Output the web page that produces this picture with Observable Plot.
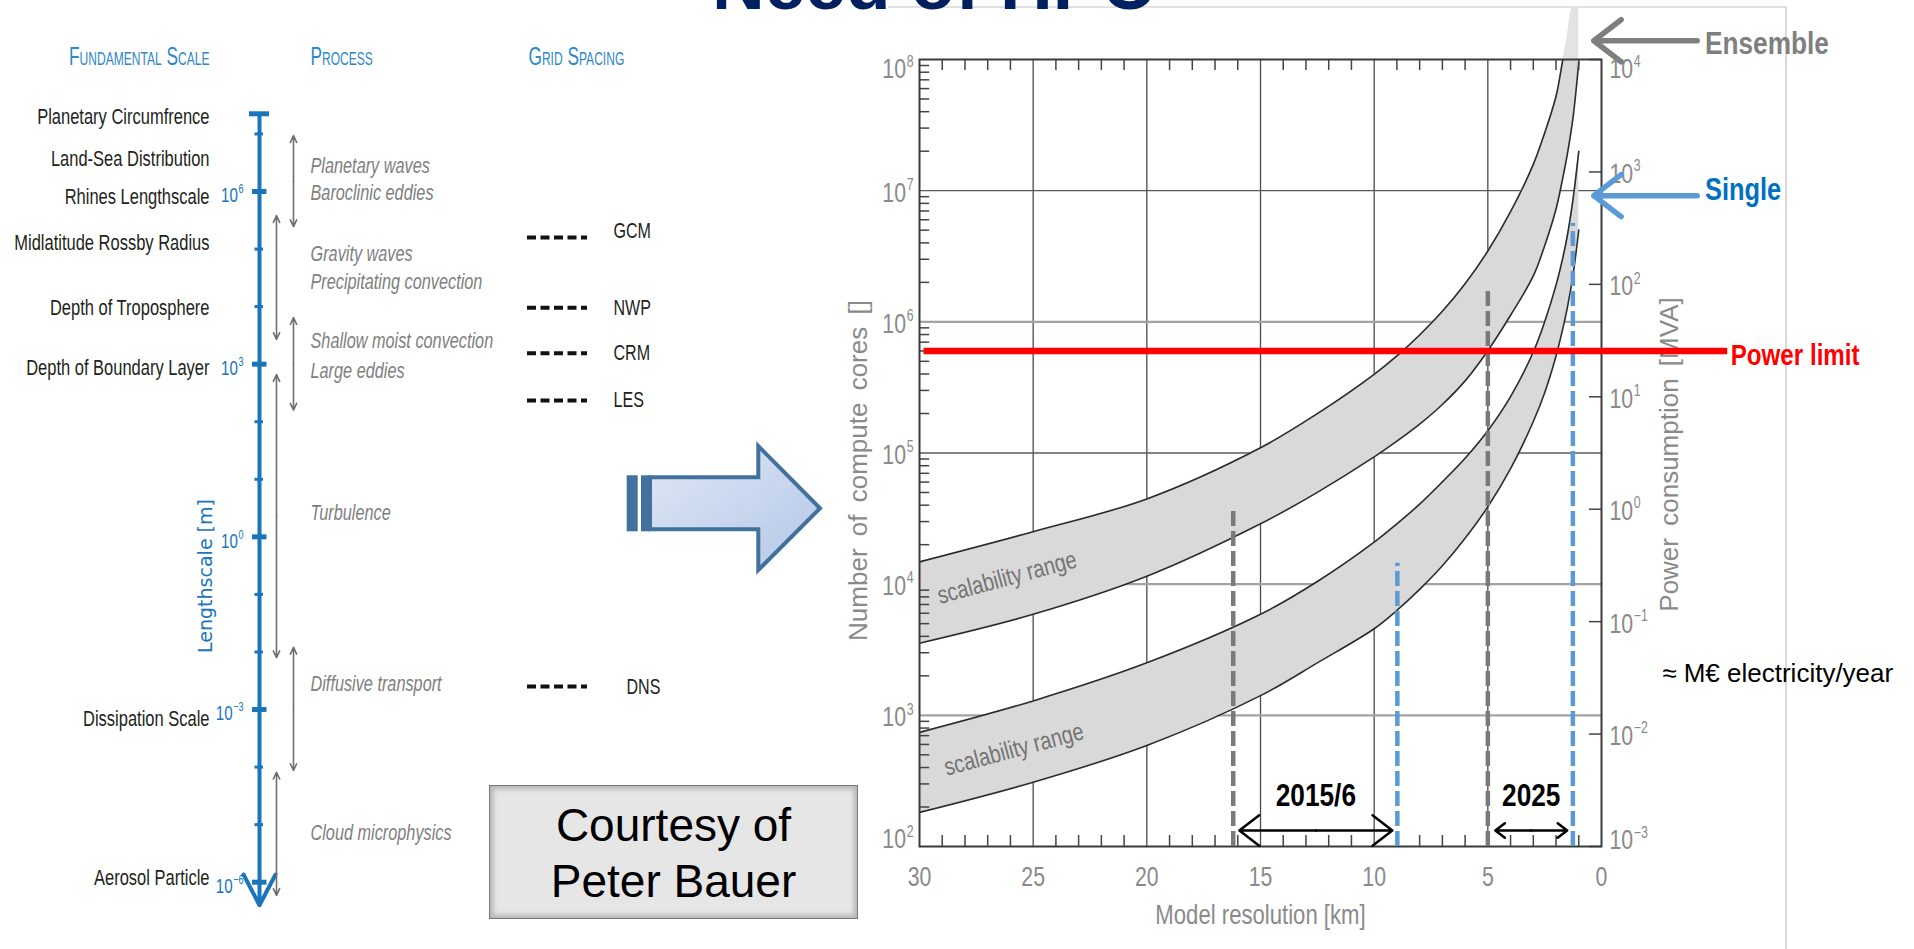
<!DOCTYPE html>
<html><head><meta charset="utf-8">
<script src="https://cdn.jsdelivr.net/npm/d3@7"></script>
<script src="https://cdn.jsdelivr.net/npm/@observablehq/plot@0.6"></script>
<style>
html,body{margin:0;padding:0;background:#fff;}
body{width:1914px;height:949px;overflow:hidden;position:relative;}
.layer{position:absolute;left:0;top:0;}
svg{max-width:none !important;}
#courtesy{position:absolute;left:489px;top:785px;width:369px;height:134px;background:#e6e6e6;border:1.5px solid #7a7a7a;
 box-shadow: inset 0 0 5px 3px rgba(0,0,0,0.22);font-family:'Liberation Sans',Arial,sans-serif;font-size:46px;line-height:56px;
 text-align:center;color:#000;padding-top:11px;box-sizing:border-box;}
</style></head><body>
<script>
// ---------------- DATA: right chart (compute cores vs model resolution) ----------------
const kmPoints          = [30,   25,   20,   15,   12.5, 10,   9,    8,    7,    6,    5,    4,    3,    2.5,  2,    1.7,  1.5,  1.25, 1.0];
// log10(number of cores)
const ensembleUpperLog  = [4.17, 4.40, 4.65, 5.04, 5.30, 5.60, 5.74, 5.90, 6.08, 6.29, 6.54, 6.84, 7.20, 7.44, 7.72, 8.00, 8.18, 8.40, 8.40];
const ensembleLowerLog  = [3.55, 3.77, 4.06, 4.46, 4.70, 4.97, 5.09, 5.22, 5.37, 5.55, 5.78, 6.05, 6.35, 6.58, 6.86, 7.10, 7.28, 7.56, 7.98];
const singleUpperLog    = [2.87, 3.11, 3.40, 3.77, 4.02, 4.32, 4.46, 4.61, 4.78, 4.96, 5.17, 5.43, 5.77, 6.00, 6.28, 6.49, 6.66, 6.94, 7.30];
const singleLowerLog    = [2.26, 2.49, 2.77, 3.15, 3.40, 3.66, 3.80, 3.96, 4.14, 4.35, 4.59, 4.88, 5.24, 5.46, 5.74, 5.95, 6.11, 6.36, 6.70];
const xTickValues  = [30, 25, 20, 15, 10, 5, 0];
const xGridValues  = [25, 20, 15, 10, 5];
const coreTickExp  = [2, 3, 4, 5, 6, 7, 8];
const darkGridExp  = [5, 7];
const lightGridExp = [3, 4, 6];
const powerTickExp = [-3, -2, -1, 0, 1, 2, 3, 4];
const powerLimitCores = 6.0e5;
const markerKm     = [16.2, 8.98, 5.0, 1.26];
const markerTopLog = [4.59, 4.16, 6.26, 6.75];
const markerKind   = ["ensemble", "single", "ensemble", "single"];
const periodLabels = ["2015/6", "2025"];
const periodFromKm = [15.93, 4.67];
const periodToKm   = [9.2, 1.51];
const bandLabels   = ["scalability range", "scalability range"];

// ---------------- DATA: left diagram (length scales) ----------------
const scaleNames   = ["Planetary Circumfrence","Land-Sea Distribution","Rhines Lengthscale","Midlatitude Rossby Radius","Depth of Troposphere","Depth of Boundary Layer","Dissipation Scale","Aerosol Particle"];
const scaleNameExp = [7.29, 6.57, 5.90, 5.11, 3.98, 2.94, -3.16, -5.92];
const processNames = ["Planetary waves","Baroclinic eddies","Gravity waves","Precipitating convection","Shallow moist convection","Large eddies","Turbulence","Diffusive transport","Cloud microphysics"];
const processExp   = [6.45, 5.97, 4.92, 4.42, 3.41, 2.89, 0.41, -2.56, -5.14];
const processFrom  = [6.97, 5.58, 3.81, 2.82, -1.92, -4.09];
const processTo    = [5.39, 3.43, 2.20, -2.10, -4.06, -6.23];
const processCol   = ["A", "B", "A", "B", "A", "B"];
const gridNames    = ["GCM", "NWP", "CRM", "LES", "DNS"];
const gridExp      = [5.20, 3.98, 3.19, 2.37, -2.60];
const gridLabelExp = [5.32, 3.98, 3.19, 2.37, -2.60];
const majorExp     = [6, 3, 0, -3, -6];
const minorExp     = [7, 5, 4, 2, 1, -1, -2, -4, -5];
const axisTopExp = 7.35, axisBottomExp = -6.40;

// ---------------- styles / layout ----------------
// 'sqNN' is a sentinel (not a real font): text in that stack is horizontally condensed to NN %
const sq = n => `'sq${n}','Liberation Sans',Arial,sans-serif`;
const SANS = "'Liberation Sans',Arial,sans-serif";
const GRAYTXT = "#8a8a8a";
const p10 = v => 10 ** v;
const powerToCores = e => 10 ** (2 + (e + 3) * 6 / 7);
const expText = d => `10^${d < 0 ? "−" + (-d) : d}`;

// ---------------- decorations (title, slide frame, block arrow) ----------------
const deco = d3.create("svg").attr("class", "layer").attr("width", 1914).attr("height", 949);
const defs = deco.append("defs");
const grad = defs.append("linearGradient").attr("id", "ga").attr("x1", "0").attr("y1", "0").attr("x2", "1").attr("y2", "1");
grad.append("stop").attr("offset", "0").attr("stop-color", "#dfe7f5");
grad.append("stop").attr("offset", "1").attr("stop-color", "#b4c7e7");
deco.append("path").attr("d", "M888,7H1786V949").attr("fill", "none").attr("stroke", "#c4c4c4").attr("stroke-width", 1.2);
deco.append("text").attr("x", 712).attr("y", 9).text("Need of HPC")
  .attr("font-family", SANS).attr("font-weight", "bold").attr("font-size", 73).attr("fill", "#002060");
deco.append("path").attr("d", "M650,477.3H758.3V446L820,508.3L758.3,570V529.3H650Z")
  .attr("fill", "url(#ga)").attr("stroke", "#41719c").attr("stroke-width", 4).attr("stroke-linejoin", "miter");
deco.append("rect").attr("x", 626.7).attr("y", 475.3).attr("width", 11).attr("height", 56).attr("fill", "#41719c");
deco.append("rect").attr("x", 641).attr("y", 475.3).attr("width", 9).attr("height", 56).attr("fill", "#41719c");
document.body.appendChild(deco.node());

const box = document.createElement("div");
box.id = "courtesy";
box.innerHTML = "Courtesy of<br>Peter Bauer";
document.body.appendChild(box);

// ---------------- left diagram ----------------
const LX = {names: 209, tickLabels: 243, axis: 259, colB: 276, colA: 293, process: 310, gridL: 527, gridR: 587, gridLabel: 613};
const gridLabelShift = [0, 0, 0, 0, 13];
const BLUE = "#1a75bb";
const scaleRows = scaleNames.map((n, i) => ({n, e: scaleNameExp[i]}));
const procRows = processNames.map((n, i) => ({n, e: processExp[i]}));
const rangeRows = processFrom.map((f, i) => ({f, t: processTo[i], m: (f + processTo[i]) / 2, c: processCol[i]}));
const gridRows = gridNames.map((n, i) => ({n, e: gridExp[i], le: gridLabelExp[i], s: gridLabelShift[i]}));
const colX = c => c === "A" ? LX.colA : LX.colB;
const headerStyle = {lineAnchor: "bottom", fontVariant: "small-caps", fontSize: 25, fontFamily: sq(69), fill: "#2e87c8"};

const left = Plot.plot({
  width: 700, height: 949, margin: 0,
  x: {type: "linear", domain: [0, 700], range: [0, 700], axis: null},
  y: {type: "log", domain: [1e-6, 1e6], range: [881.7, 191], axis: null},
  style: {background: "transparent", overflow: "visible"},
  marks: [
    Plot.text(["Fundamental Scale"], {x: () => LX.names, y: () => p10(8.19), textAnchor: "end", ...headerStyle}),
    Plot.text(["Process"], {x: () => LX.process, y: () => p10(8.19), textAnchor: "start", ...headerStyle}),
    Plot.text(["Grid Spacing"], {x: () => LX.gridL + 1, y: () => p10(8.19), textAnchor: "start", ...headerStyle}),
    // axis
    Plot.arrow([0], {x1: () => LX.axis, x2: () => LX.axis, y1: () => p10(axisTopExp), y2: () => p10(axisBottomExp), stroke: BLUE, strokeWidth: 4, headLength: 13, headAngle: 55}),
    Plot.ruleY([p10(axisTopExp)], {x1: () => LX.axis - 10, x2: () => LX.axis + 10, stroke: BLUE, strokeWidth: 5}),
    Plot.ruleY(majorExp.map(p10), {x1: () => LX.axis - 7, x2: () => LX.axis + 7.5, stroke: BLUE, strokeWidth: 5}),
    Plot.ruleY(minorExp.map(p10), {x1: () => LX.axis - 4.5, x2: () => LX.axis + 4, stroke: BLUE, strokeWidth: 3}),
    Plot.text(majorExp, {x: () => LX.tickLabels, y: d => p10(d), dy: 4, text: expText, textAnchor: "end", fontSize: 21, fontFamily: sq(72), fill: BLUE}),
    Plot.text(["Lengthscale [m]"], {x: () => 205, y: () => p10(-0.68), rotate: -90, fontSize: 19, fontFamily: "'DejaVu Sans',Verdana,sans-serif", fill: BLUE}),
    // names
    Plot.text(scaleRows, {x: () => LX.names, y: d => p10(d.e), text: "n", textAnchor: "end", fontSize: 22, fontFamily: sq(75), fill: "#231f20"}),
    // process ranges (double-headed)
    Plot.arrow(rangeRows, {x1: d => colX(d.c), x2: d => colX(d.c), y1: d => p10(d.m), y2: d => p10(d.f), stroke: "#6f6f6f", strokeWidth: 1.6, headLength: 7, headAngle: 50}),
    Plot.arrow(rangeRows, {x1: d => colX(d.c), x2: d => colX(d.c), y1: d => p10(d.m), y2: d => p10(d.t), stroke: "#6f6f6f", strokeWidth: 1.6, headLength: 7, headAngle: 50}),
    Plot.text(procRows, {x: () => LX.process, y: d => p10(d.e), text: "n", textAnchor: "start", fontStyle: "italic", fontSize: 22, fontFamily: sq(74), fill: "#808080"}),
    // grid spacing
    Plot.ruleY(gridRows, {y: d => p10(d.e), x1: () => LX.gridL, x2: () => LX.gridR, stroke: "#111", strokeWidth: 4, strokeDasharray: "9,4.5"}),
    Plot.text(gridRows, {x: d => LX.gridLabel + d.s, y: d => p10(d.le), text: "n", textAnchor: "start", fontSize: 22, fontFamily: sq(73), fill: "#231f20"})
  ]
});
left.classList.add("layer");
document.body.appendChild(left);

// ---------------- right chart ----------------
const bandRows = kmPoints.map((km, i) => ({km, eu: ensembleUpperLog[i], el: ensembleLowerLog[i], su: singleUpperLog[i], sl: singleLowerLog[i]}));
const minorCoreTicks = d3.range(2, 8).flatMap(e => d3.range(2, 10).map(m => m * 10 ** e));
const minorKmTicks = d3.range(1, 30).filter(k => k % 5 !== 0);
const markerRows = markerKm.map((km, i) => ({km, top: p10(markerTopLog[i]), kind: markerKind[i]}));
const periodRows = periodLabels.map((label, i) => ({label, a: periodFromKm[i], b: periodToKm[i], m: (periodFromKm[i] + periodToKm[i]) / 2}));
const curve = "catmull-rom";
const tickKm = 0.45, tickLog = 0.084;
const A = {arrowFrom: -4.21, arrowTo: 0.34, labelKm: -4.55, ensembleY: 8.143, singleY: 6.962, ensembleLabelY: 8.042, singleLabelY: 6.93,
           powerFrom: 29.8, powerTo: -5.55, powerLabelKm: -5.68, powerLabelY: 5.674, euroKm: -2.67, euroY: 3.251,
           periodArrowY: 2.122, periodLabelY: 2.305};
const bandLabelRows = [{t: bandLabels[0], km: 26.15, e: 4.05}, {t: bandLabels[1], km: 25.85, e: 2.74}];
const tickLabel = {fontSize: 28, fontFamily: sq(76), fill: GRAYTXT};
const BOLDN = sq(82);

const main = Plot.plot({
  width: 1914, height: 949,
  marginLeft: 919, marginRight: 313, marginTop: 59, marginBottom: 103,
  x: {domain: [30, 0], axis: null},
  y: {type: "log", domain: [1e2, 1e8], axis: null},
  style: {background: "transparent", overflow: "visible"},
  marks: [
    Plot.ruleX(xGridValues, {stroke: "#4a4a4a", strokeWidth: 1.3}),
    Plot.ruleY(darkGridExp.map(p10), {stroke: "#5a5a5a", strokeWidth: 1.4}),
    Plot.ruleY(lightGridExp.map(p10), {stroke: "#a3a3a3", strokeWidth: 2.2}),
    // ensemble band overflow above frame (lighter), then clipped bands
    Plot.areaY(bandRows, {x: "km", y1: d => p10(d.el), y2: d => p10(d.eu), fill: "#e3e3e3", curve}),
    Plot.areaY(bandRows, {x: "km", y1: d => p10(d.el), y2: d => p10(d.eu), fill: "#d9d9d9", curve, clip: true}),
    Plot.areaY(bandRows, {x: "km", y1: d => p10(d.sl), y2: d => p10(d.su), fill: "#d9d9d9", curve, clip: true}),
    Plot.line(bandRows.filter(d => d.km >= 1.5), {x: "km", y: d => p10(d.eu), stroke: "#2b2b2b", strokeWidth: 1.6, curve, clip: true}),
    Plot.line(bandRows, {x: "km", y: d => p10(d.el), stroke: "#2b2b2b", strokeWidth: 1.6, curve, clip: true}),
    Plot.line(bandRows, {x: "km", y: d => p10(d.su), stroke: "#2b2b2b", strokeWidth: 1.6, curve, clip: true}),
    Plot.line(bandRows, {x: "km", y: d => p10(d.sl), stroke: "#2b2b2b", strokeWidth: 1.6, curve, clip: true}),
    Plot.text(bandLabelRows, {x: "km", y: d => p10(d.e), text: "t", rotate: -15, fontSize: 25, fontFamily: sq(80), fill: "#747474"}),
    // ticks
    Plot.ruleY(minorCoreTicks, {x1: () => 30, x2: () => 30 - tickKm, stroke: "#444", strokeWidth: 1.5}),
    Plot.ruleX(minorKmTicks, {y1: () => 1e2, y2: () => p10(2 + tickLog), stroke: "#444", strokeWidth: 1.5}),
    Plot.ruleX(minorKmTicks, {y1: () => 1e8, y2: () => p10(8 - tickLog), stroke: "#444", strokeWidth: 1.5}),
    Plot.ruleY(powerTickExp.map(powerToCores), {x1: () => 0.53, x2: () => 0, stroke: "#444", strokeWidth: 1.5}),
    Plot.frame({stroke: "#3a3a3a", strokeWidth: 2}),
    // tick labels
    Plot.text(coreTickExp.filter(d => d > 2 && d < 8), {x: () => 30, y: d => p10(d), dx: -6, dy: 2, text: expText, textAnchor: "end", ...tickLabel}),
    Plot.text([8], {x: () => 30, y: d => p10(d), dx: -6, dy: 10, text: expText, textAnchor: "end", ...tickLabel}),
    Plot.text([2], {x: () => 30, y: d => p10(d), dx: -6, dy: -7, text: expText, textAnchor: "end", ...tickLabel}),
    Plot.text(powerTickExp.filter(e => e > -3 && e < 4), {x: () => 0, y: d => powerToCores(d), dx: 8, dy: 2, text: expText, textAnchor: "start", ...tickLabel}),
    Plot.text([4], {x: () => 0, y: d => powerToCores(d), dx: 8, dy: 10, text: expText, textAnchor: "start", ...tickLabel}),
    Plot.text([-3], {x: () => 0, y: d => powerToCores(d), dx: 8, dy: -6, text: expText, textAnchor: "start", ...tickLabel}),
    Plot.text(xTickValues, {x: d => d, y: () => 1e2, dy: 31, text: d => String(d), ...tickLabel}),
    // axis titles
    Plot.text(["Model resolution [km]"], {frameAnchor: "bottom", dy: 77, lineAnchor: "bottom", fontSize: 27, fontFamily: sq(82), fill: GRAYTXT}),
    Plot.text(["Number of compute cores []"], {frameAnchor: "left", textAnchor: "middle", dx: -61, dy: 17.5, rotate: -90, fontSize: 26, fontFamily: SANS, fill: GRAYTXT}),
    Plot.text(["Power consumption [MVA]"], {frameAnchor: "right", textAnchor: "middle", dx: 68, dy: 1.5, rotate: -90, fontSize: 26, fontFamily: SANS, fill: GRAYTXT}),
    // dashed markers
    Plot.ruleX(markerRows, {x: "km", y1: () => 1e2, y2: "top", stroke: d => d.kind === "single" ? "#5b9bd5" : "#7a7a7a", strokeWidth: 4.5, strokeDasharray: "15,5"}),
    // period arrows
    Plot.arrow(periodRows, {x1: "m", x2: "a", y1: () => p10(A.periodArrowY), y2: () => p10(A.periodArrowY), stroke: "#000", strokeWidth: 2.5, headLength: 15, headAngle: 75}),
    Plot.arrow(periodRows, {x1: "m", x2: "b", y1: () => p10(A.periodArrowY), y2: () => p10(A.periodArrowY), stroke: "#000", strokeWidth: 2.5, headLength: 15, headAngle: 75}),
    Plot.text(periodRows, {x: "m", y: () => p10(A.periodLabelY), text: "label", lineAnchor: "bottom", fontSize: 32, fontWeight: "bold", fontFamily: BOLDN, fill: "#000"}),
    // power limit
    Plot.ruleY([powerLimitCores], {x1: () => A.powerFrom, x2: () => A.powerTo, stroke: "#ff0000", strokeWidth: 6.5}),
    Plot.text(["Power limit"], {x: () => A.powerLabelKm, y: () => p10(A.powerLabelY), lineAnchor: "bottom", textAnchor: "start", fontSize: 29.5, fontWeight: "bold", fontFamily: BOLDN, fill: "#ff0000"}),
    // ensemble / single annotations
    Plot.arrow([0], {x1: () => A.arrowFrom, x2: () => A.arrowTo, y1: () => p10(A.ensembleY), y2: () => p10(A.ensembleY), stroke: "#7f7f7f", strokeWidth: 5.5, headLength: 22, headAngle: 75}),
    Plot.text(["Ensemble"], {x: () => A.labelKm, y: () => p10(A.ensembleLabelY), lineAnchor: "bottom", textAnchor: "start", fontSize: 32, fontWeight: "bold", fontFamily: BOLDN, fill: "#7f7f7f"}),
    Plot.arrow([0], {x1: () => A.arrowFrom, x2: () => A.arrowTo, y1: () => p10(A.singleY), y2: () => p10(A.singleY), stroke: "#5b9bd5", strokeWidth: 5.5, headLength: 22, headAngle: 75}),
    Plot.text(["Single"], {x: () => A.labelKm, y: () => p10(A.singleLabelY), lineAnchor: "bottom", textAnchor: "start", fontSize: 31, fontWeight: "bold", fontFamily: BOLDN, fill: "#0070c0"}),
    Plot.text(["≈ M€ electricity/year"], {x: () => A.euroKm, y: () => p10(A.euroY), lineAnchor: "bottom", textAnchor: "start", fontSize: 26, fontFamily: SANS, fill: "#000"})
  ]
});
main.classList.add("layer");
document.body.appendChild(main);

// ---------------- text post-processing ----------------
function squashOf(el) {
  const m = /sq(\d+)/.exec(getComputedStyle(el).fontFamily);
  return m ? +m[1] / 100 : 1;
}
function squash(el, f) {
  if (f >= 1 || el.dataset.sq) return;
  el.dataset.sq = "1";
  const t = el.getAttribute("transform") || "";
  el.setAttribute("transform", `${t} scale(${f},1)`.trim());
}
// "10^6" -> base text + separate exponent text beside it
function splitSuperscripts(svg, ratio, lift) {
  d3.select(svg).selectAll("text").each(function () {
    const m = /^([^\^]*)\^(.*)$/.exec(this.textContent);
    if (!m) return;
    const cs = getComputedStyle(this);
    const fs = parseFloat(cs.fontSize), anchor = cs.textAnchor;
    const yAttr = this.getAttribute("y");
    const baseY = yAttr ? (/em$/.test(yAttr) ? parseFloat(yAttr) * fs : parseFloat(yAttr)) : 0;
    this.textContent = m[1];
    const sup = this.cloneNode(false);
    sup.textContent = m[2];
    sup.setAttribute("font-size", fs * ratio);
    this.parentNode.insertBefore(sup, this.nextSibling);
    const bw = this.getComputedTextLength(), ew = sup.getComputedTextLength();
    const gap = 0.8;
    const x0 = anchor === "end" ? -(bw + ew + gap) : anchor === "middle" ? -(bw + ew + gap) / 2 : 0;
    this.setAttribute("text-anchor", "start"); this.setAttribute("x", x0); this.setAttribute("y", baseY);
    sup.setAttribute("text-anchor", "start"); sup.setAttribute("x", x0 + bw + gap); sup.setAttribute("y", baseY - lift * fs);
  });
}
function condense(svg) {
  d3.select(svg).selectAll("text").each(function () { squash(this, squashOf(this)); });
}
splitSuperscripts(main, 0.58, 0.42);
splitSuperscripts(left, 0.6, 0.42);
condense(main);
condense(left);
d3.select(main).selectAll("text").filter(function () { return /compute cores|Power consumption/.test(this.textContent); })
  .attr("word-spacing", "5px");
</script>
</body></html>
